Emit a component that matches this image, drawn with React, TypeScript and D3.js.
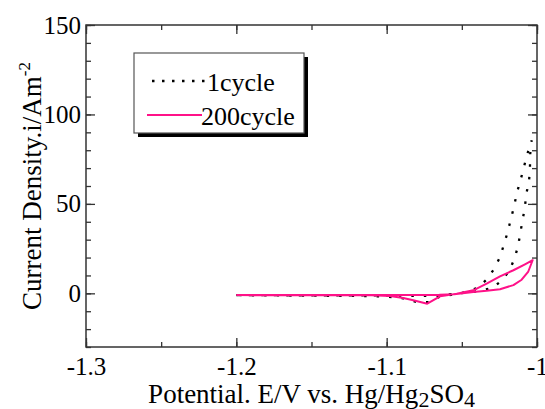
import React, { useEffect, useRef } from "react";
import * as d3 from "d3";

// 200 cycle curve (potential V, current density A/m2)
const cycle200E = [-1.2, -1.15, -1.1, -1.08, -1.065, -1.055, -1.0424, -1.0335, -1.0246, -1.0157, -1.0102, -1.0058, -1.0029,
    -1.008, -1.0157, -1.0246, -1.0335, -1.0424, -1.0534, -1.0645, -1.073, -1.0823, -1.089, -1.0978, -1.11, -1.2];
const cycle200I = [-1.0, -1.0, -1.0, -0.9, -0.8, -0.5, 0.7, 1.4, 2.3, 4.6, 7.6, 12.2, 18.5,
    16.2, 12.9, 9.5, 5.4, 1.7, -0.2, -1.7, -5.8, -3.9, -2.6, -1.5, -1.1, -1.0];

// 1 cycle curve
const cycle1E = [-1.2, -1.1, -1.07, -1.055, -1.045, -1.039, -1.0295, -1.0228, -1.018, -1.0146, -1.0124, -1.011, -1.0095,
    -1.008, -1.007, -1.0053, -1.0047, -1.0045, -1.004, -1.0035, -1.0069, -1.009, -1.0113, -1.0135, -1.0153, -1.0175,
    -1.0195, -1.022, -1.0246, -1.0284, -1.0335, -1.0397, -1.047, -1.055, -1.065, -1.072, -1.08, -1.089, -1.1, -1.113, -1.2];
const cycle1I = [-1.0, -1.2, -1.5, -0.3, 0.5, 1.3, 3.0, 7.7, 13.3, 20.3, 27.2, 34.3, 41.2,
    48.7, 56, 62.8, 69.8, 78, 83.4, 85.5, 76.7, 69.4, 62.3, 55.8, 48.3, 41.2,
    34.3, 27.3, 20.3, 13.8, 7.7, 3.0, 0.8, -0.5, -2, -4.9, -4.9, -2.8, -1.8, -1.5, -1.0];

const xTicks = [-1.3, -1.2, -1.1, -1];
const yTicks = [0, 50, 100, 150];
const legendLabels = ["1cycle", "200cycle"];

const font = "'Liberation Serif', 'Times New Roman', serif";
const pink = "#ff1188";

export default function App() {
    const axRef = useRef(null);

    const width = 545;
    const height = 409;
    const left = 86, right = 537, top = 25, bottom = 347;

    const x = d3.scaleLinear().domain([-1.3, -1.0]).range([left, right]);
    const y = d3.scaleLinear().domain([-30, 150]).range([bottom, top]);

    const line = d3.line<number>()
        .x(d => x(d[0]))
        .y(d => y(d[1]));

    const pts200 = cycle200E.map((e, i) => [e, cycle200I[i]]);
    const pts1 = cycle1E.map((e, i) => [e, cycle1I[i]]);

    useEffect(() => {
        const g = d3.select(axRef.current);
        g.selectAll("*").remove();

        const xMinor = d3.range(-1.3, -0.999, 0.05);
        const yMinor = d3.range(-30, 150.1, 10);

        // bottom
        g.append("g").attr("transform", `translate(0,${bottom})`)
            .call(d3.axisBottom(x).tickValues(xMinor).tickSize(-5).tickFormat(() => ""));
        g.append("g").attr("transform", `translate(0,${bottom})`)
            .call(d3.axisBottom(x).tickValues(xTicks).tickSize(-9).tickPadding(10)
                .tickFormat(d => String(d)));
        // top
        g.append("g").attr("transform", `translate(0,${top})`)
            .call(d3.axisTop(x).tickValues(xMinor).tickSize(-5).tickFormat(() => ""));
        g.append("g").attr("transform", `translate(0,${top})`)
            .call(d3.axisTop(x).tickValues(xTicks).tickSize(-9).tickFormat(() => ""));
        // left
        g.append("g").attr("transform", `translate(${left},0)`)
            .call(d3.axisLeft(y).tickValues(yMinor).tickSize(-5).tickFormat(() => ""));
        g.append("g").attr("transform", `translate(${left},0)`)
            .call(d3.axisLeft(y).tickValues(yTicks).tickSize(-9).tickPadding(5).tickFormat(d => String(d)));
        // right
        g.append("g").attr("transform", `translate(${right},0)`)
            .call(d3.axisRight(y).tickValues(yMinor).tickSize(-5).tickFormat(() => ""));
        g.append("g").attr("transform", `translate(${right},0)`)
            .call(d3.axisRight(y).tickValues(yTicks).tickSize(-9).tickFormat(() => ""));

        g.selectAll(".domain").remove();
        g.selectAll("line").attr("stroke", "#333").attr("stroke-width", 1.3);
        g.selectAll("text")
            .attr("font-family", font)
            .attr("font-size", 25)
            .attr("fill", "#000");
    }, []);

    return (
        <svg width={width} height={height} style={{ position: "absolute", left: 0, top: 0, background: "#fff" }}>
            <rect x={0} y={0} width={width} height={height} fill="#fff" />

            <path d={line(pts1 as any) || ""} fill="none" stroke="#000" strokeWidth={2.3}
                strokeDasharray="2.5,10" />
            <path d={line(pts200 as any) || ""} fill="none" stroke={pink} strokeWidth={2} strokeLinejoin="round" />

            <rect x={left} y={top} width={right - left} height={bottom - top} fill="none" stroke="#333" strokeWidth={1.5} />
            <g ref={axRef}></g>

            {/* legend */}
            <rect x={138} y={57} width={170} height={80} fill="#000" />
            <rect x={134} y={53} width={170} height={80} fill="#fff" stroke="#555" strokeWidth={1.2} />
            <line x1={152} x2={206} y1={81} y2={81} stroke="#000" strokeWidth={2.3} strokeDasharray="2.5,7.5" />
            <text x={207} y={91} fontFamily={font} fontSize={26}>{legendLabels[0]}</text>
            <line x1={147} x2={202} y1={115} y2={115} stroke={pink} strokeWidth={2} />
            <text x={201} y={125} fontFamily={font} fontSize={26}>{legendLabels[1]}</text>

            {/* axis titles */}
            <text x={(left + right) / 2} y={403} textAnchor="middle" fontFamily={font} fontSize={27}>
                Potential. E/V vs. Hg/Hg<tspan dy={4} fontSize={22}>2</tspan><tspan dy={-4}>SO</tspan><tspan dy={4} fontSize={22}>4</tspan>
            </text>
            <text transform={`translate(41,${(top + bottom) / 2}) rotate(-90)`} textAnchor="middle" fontFamily={font} fontSize={27}>
                Current Density.i/Am<tspan dy={-11} fontSize={17}>-2</tspan>
            </text>
        </svg>
    );
}
